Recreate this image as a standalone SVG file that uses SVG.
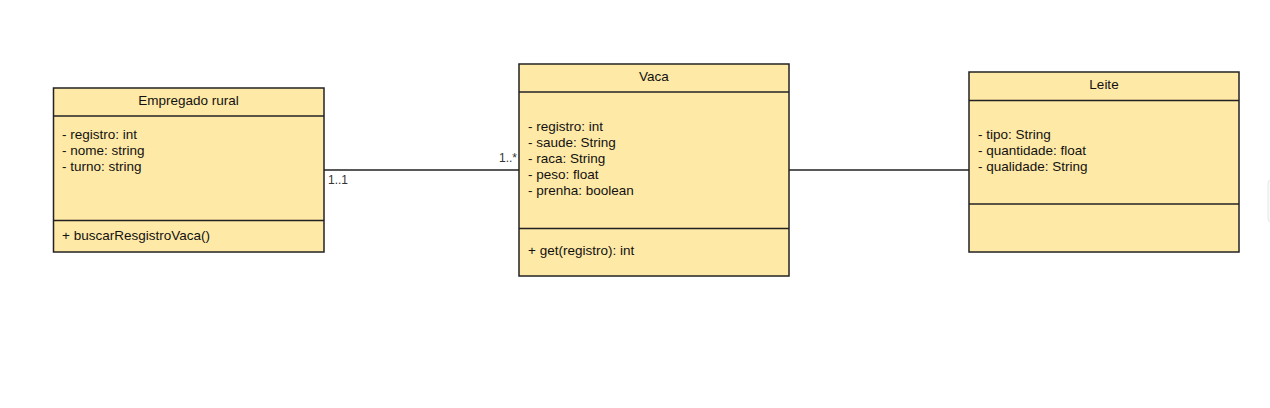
<svg xmlns="http://www.w3.org/2000/svg" width="1270" height="408" viewBox="0 0 1270 408">
<style>
.box{fill:#ffe9a6;stroke:#222;stroke-width:1.5}
.div{stroke:#222;stroke-width:1.5;fill:none}
.t{font-family:"Liberation Sans",Arial,sans-serif;font-size:13.5px;fill:#111}
.c{text-anchor:middle}
.lbl{font-family:"Liberation Sans",Arial,sans-serif;font-size:12px;fill:#333}
.conn{stroke:#222;stroke-width:1.5;fill:none}
</style>
<rect width="1270" height="408" fill="#ffffff"/>
<g id="connectors">
<line class="conn" x1="324" y1="170" x2="519" y2="170"/>
<line class="conn" x1="789" y1="170" x2="969" y2="170"/>
<text class="lbl" x="517" y="162" text-anchor="end">1..*</text>
<text class="lbl" x="328" y="184">1..1</text>
</g>
<g id="empregado">
<rect class="box" x="53.5" y="88" width="270.5" height="164"/>
<line class="div" x1="53.5" y1="116" x2="324" y2="116"/>
<line class="div" x1="53.5" y1="220.5" x2="324" y2="220.5"/>
<text class="t c" x="188.5" y="105">Empregado rural</text>
<text class="t" x="62" y="139">- registro: int</text>
<text class="t" x="62" y="155">- nome: string</text>
<text class="t" x="62" y="171">- turno: string</text>
<text class="t" x="62" y="240">+ buscarResgistroVaca()</text>
</g>
<g id="vaca">
<rect class="box" x="519" y="64" width="270" height="212"/>
<line class="div" x1="519" y1="92" x2="789" y2="92"/>
<line class="div" x1="519" y1="228.5" x2="789" y2="228.5"/>
<text class="t c" x="654" y="81">Vaca</text>
<text class="t" x="528" y="131">- registro: int</text>
<text class="t" x="528" y="147">- saude: String</text>
<text class="t" x="528" y="163">- raca: String</text>
<text class="t" x="528" y="179">- peso: float</text>
<text class="t" x="528" y="195">- prenha: boolean</text>
<text class="t" x="528" y="255">+ get(registro): int</text>
</g>
<g id="leite">
<rect class="box" x="969" y="72" width="270" height="180"/>
<line class="div" x1="969" y1="100.5" x2="1239" y2="100.5"/>
<line class="div" x1="969" y1="204" x2="1239" y2="204"/>
<text class="t c" x="1104" y="89">Leite</text>
<text class="t" x="978" y="139">- tipo: String</text>
<text class="t" x="978" y="155">- quantidade: float</text>
<text class="t" x="978" y="171">- qualidade: String</text>
</g>
<rect x="1268" y="180" width="8" height="42" rx="3" fill="#fafafa" stroke="#e6e6e6" stroke-width="1"/>
</svg>
